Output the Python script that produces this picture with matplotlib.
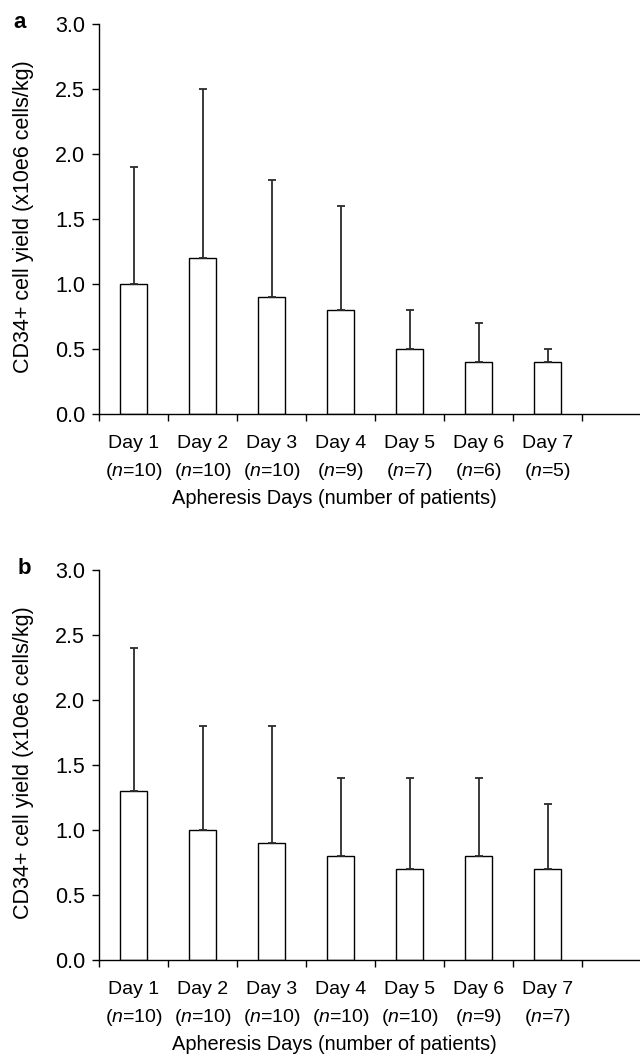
import matplotlib
matplotlib.use("Agg")
import matplotlib.pyplot as plt
import numpy as np

plt.rcParams['font.family'] = ['Liberation Sans', 'DejaVu Sans']
plt.rcParams['mathtext.fontset'] = 'custom'
plt.rcParams['mathtext.rm'] = 'Liberation Sans'
plt.rcParams['mathtext.it'] = 'Liberation Sans:italic'

days = ["Day 1", "Day 2", "Day 3", "Day 4", "Day 5", "Day 6", "Day 7"]
n_a = [10, 10, 10, 9, 7, 6, 5]
mean_a = [1.0, 1.2, 0.9, 0.8, 0.5, 0.4, 0.4]
upper_a = [1.9, 2.5, 1.8, 1.6, 0.8, 0.7, 0.5]
n_b = [10, 10, 10, 10, 10, 9, 7]
mean_b = [1.3, 1.0, 0.9, 0.8, 0.7, 0.8, 0.7]
upper_b = [2.4, 1.8, 1.8, 1.4, 1.4, 1.4, 1.2]
yticks = [0.0, 0.5, 1.0, 1.5, 2.0, 2.5, 3.0]
ylabel = "CD34+ cell yield (x10e6 cells/kg)"
xlabel = "Apheresis Days (number of patients)"

W, H = 640, 1058
fig = plt.figure(figsize=(W / 100, H / 100), dpi=100)

FS_X = 14.0
FS_Y = 15.5
FS_YL = 15.5
FS_XL = 14.4
AX_W = W - 99

def panel(rect, means, uppers, ns):
    ax = fig.add_axes(rect)
    x = np.arange(len(days))
    err = np.array(uppers) - np.array(means)
    ax.bar(x, means, width=0.4, color='white', edgecolor='black', linewidth=1.0, zorder=2)
    ax.errorbar(x, means, yerr=[np.zeros_like(err), err], fmt='none',
                ecolor='#2b2b2b', elinewidth=1.3, capsize=3.2, capthick=1.3, zorder=3)
    ax.set_xlim(-0.5, 7.34)
    ax.set_ylim(0, 3.0)
    ax.set_yticks(yticks)
    ax.set_yticklabels([f"{v:.1f}" for v in yticks], fontsize=FS_Y)
    ax.set_xticks(x)
    ax.set_xticklabels([])
    ax.tick_params(axis='x', which='major', length=0)
    ax.set_xticks(np.arange(-0.5, 7.5, 1.0), minor=True)
    ax.tick_params(axis='x', which='minor', length=5, width=1.0, direction='out')
    ax.tick_params(axis='y', length=5, width=1.0, direction='out', pad=5)
    for s in ['top', 'right']:
        ax.spines[s].set_visible(False)
    for s in ['left', 'bottom']:
        ax.spines[s].set_linewidth(1.0)
    for i, (d, n) in enumerate(zip(days, ns)):
        ax.annotate(d, xy=(i, 0), xycoords=('data', 'axes fraction'),
                    xytext=(0, -30), textcoords='offset pixels', ha='center', va='center',
                    fontsize=FS_X)
        ax.annotate(f"($\\it{{n}}$={n})", xy=(i, 0), xycoords=('data', 'axes fraction'),
                    xytext=(0, -57), textcoords='offset pixels', ha='center', va='center',
                    fontsize=FS_X)
    ax.annotate(xlabel, xy=(2.91, 0), xycoords=('data', 'axes fraction'),
                xytext=(0, -85), textcoords='offset pixels', ha='center', va='center',
                fontsize=FS_XL)
    ax.set_ylabel(ylabel, fontsize=FS_YL)
    ax.yaxis.set_label_coords((34 - 99) / AX_W, 0.505)
    return ax

top_a = 1 - 24 / H
bot_a = 1 - 414 / H
top_b = 1 - 570 / H
bot_b = 1 - 960 / H
left = 99 / W
panel([left, bot_a, 1 - left, top_a - bot_a], mean_a, upper_a, n_a)
panel([left, bot_b, 1 - left, top_b - bot_b], mean_b, upper_b, n_b)

fig.text(20 / W, 1 - 22 / H, "a", fontsize=16, fontweight='bold', ha='center', va='center')
fig.text(24 / W, 1 - 569 / H, "b", fontsize=16, fontweight='bold', ha='center', va='center')

fig.savefig("out.png", dpi=100)
